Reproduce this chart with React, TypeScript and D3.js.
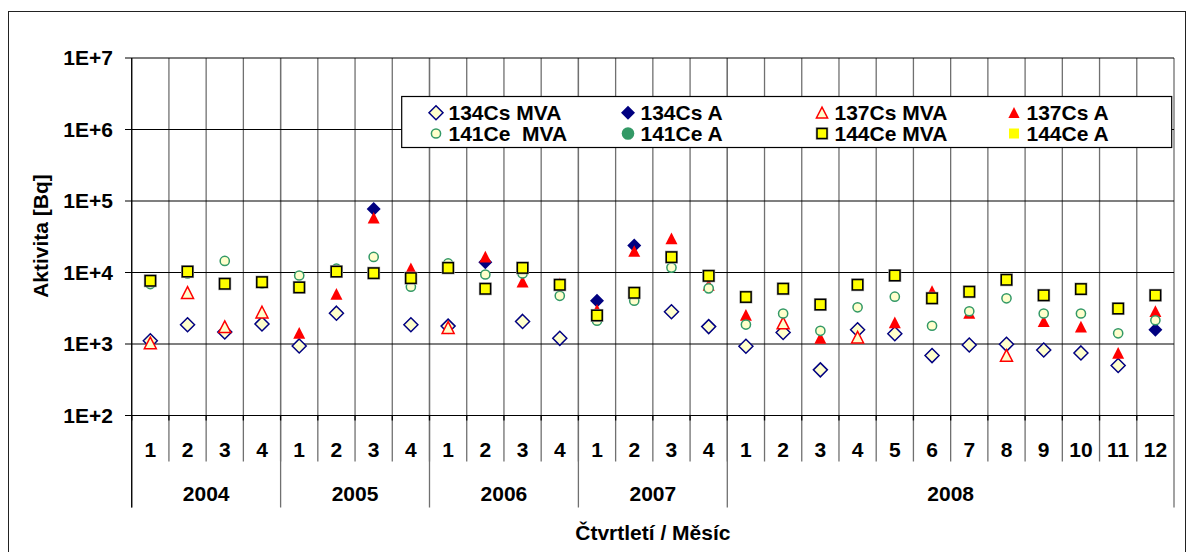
import React from "react";
import * as d3 from "d3";

const quarters = ["1", "2", "3", "4"];
const months = ["1", "2", "3", "4", "5", "6", "7", "8", "9", "10", "11", "12"];
const years = ["2004", "2005", "2006", "2007", "2008"];
const categories: { label: string; year: string }[] = [
  ...["2004", "2005", "2006", "2007"].flatMap((y) => quarters.map((q) => ({ label: q, year: y }))),
  ...months.map((m) => ({ label: m, year: "2008" })),
];
const yTicks = [1e2, 1e3, 1e4, 1e5, 1e6, 1e7];
const yTickLabels = ["1E+2", "1E+3", "1E+4", "1E+5", "1E+6", "1E+7"];

type V = number | null;
const cs134MVA: V[] = [1110, 1860, 1470, 1910, 940, 2700, null, 1860, 1780, null, 2070, 1200, null, null, 2820, 1750, 929, 1450, 435, 1580, 1390, 689, 968, 989, 826, 750, 500, null];
const cs134A: V[] = [null, null, null, null, null, null, 77400, null, null, 13900, null, null, 4030, 23800, null, null, null, null, null, null, null, null, null, null, null, null, null, 1580];
const cs137MVA: V[] = [1030, 5220, 1740, 2780, null, null, null, null, 1690, null, null, null, null, null, null, null, null, 1960, null, 1240, null, null, null, 689, null, null, null, null];
const cs137A: V[] = [null, null, null, null, 1420, 5000, 58000, 11400, null, 16600, 7410, 7020, 2980, 19900, 29800, 6660, 2550, null, 1210, null, 2000, 5450, 2700, null, 2070, 1740, 750, 2870];
const ce141MVA: V[] = [6890, 9700, 14500, 7000, 9080, 11300, 16500, 6320, 13400, 9380, 9680, 4720, 2120, 4030, 11700, 6000, 1870, 2670, 1530, 3260, 4590, 1800, 2870, 4360, 2670, 2670, 1410, 2150];
const ce141A: V[] = categories.map(() => null);
const ce144MVA: V[] = [7660, 10300, 6960, 7340, 6190, 10300, 9790, 8340, 11600, 5920, 11600, 6730, 2510, 5200, 16400, 8980, 4540, 5930, 3560, 6740, 9080, 4360, 5380, 7910, 4800, 5870, 3130, 4800];
const ce144A: V[] = categories.map(() => null);

type Shape = "diamond" | "triangle" | "circle" | "square";
interface Series { name: string; values: V[]; shape: Shape; fill: string; stroke: string | null; }
const series: Series[] = [
  { name: "134Cs MVA", values: cs134MVA, shape: "diamond", fill: "#FFFFCC", stroke: "#000080" },
  { name: "134Cs A", values: cs134A, shape: "diamond", fill: "#000080", stroke: null },
  { name: "137Cs MVA", values: cs137MVA, shape: "triangle", fill: "#FFFFCC", stroke: "#FF0000" },
  { name: "137Cs A", values: cs137A, shape: "triangle", fill: "#FF0000", stroke: null },
  { name: "141Ce  MVA", values: ce141MVA, shape: "circle", fill: "#FFFFCC", stroke: "#339966" },
  { name: "141Ce A", values: ce141A, shape: "circle", fill: "#339966", stroke: null },
  { name: "144Ce MVA", values: ce144MVA, shape: "square", fill: "#FFFF00", stroke: "#000000" },
  { name: "144Ce A", values: ce144A, shape: "square", fill: "#FFFF00", stroke: null },
];

const W = 1193, H = 552;
const L = 131.7, R = 1174, T = 58, B = 415.5;
const FONT = "'Liberation Sans', Arial, sans-serif";
const FS = 21;

function Marker({ s, x, y, legend = false }: { s: Series; x: number; y: number; legend?: boolean }) {
  const sw = s.stroke ? 1.5 : 0;
  const common = { fill: s.fill, stroke: s.stroke ?? "none", strokeWidth: sw };
  if (s.shape === "diamond") {
    const r = 7;
    return <path d={`M${x},${y - r}L${x + r},${y}L${x},${y + r}L${x - r},${y}Z`} {...common} />;
  }
  if (s.shape === "triangle") {
    const r = legend ? 5.6 : 6;
    return <path d={`M${x},${y - r}L${x + r},${y + r * 0.95}L${x - r},${y + r * 0.95}Z`} {...common} />;
  }
  if (s.shape === "circle") {
    const r = s.stroke ? 4.6 : legend ? 6.3 : 5.5;
    return <circle cx={x} cy={y} r={r} {...common} />;
  }
  const h = legend ? 5 : 5.2;
  return (
    <g>
      {s.stroke && <rect x={x - h - 0.8} y={y - h - 0.8} width={2 * h + 1.6} height={2 * h + 1.6} fill="none" stroke="#aaa" strokeWidth={1} />}
      <rect x={x - h} y={y - h} width={2 * h} height={2 * h} {...common} />
    </g>
  );
}

export default function App() {
  const x = d3.scaleBand<number>().domain(categories.map((_, i) => i)).range([L, R]).padding(0);
  const y = d3.scaleLog().domain([1e2, 1e7]).range([B, T]);
  const bw = x.bandwidth();

  const yearGroups = years.map((yr) => {
    const idx = categories.map((c, i) => (c.year === yr ? i : -1)).filter((i) => i >= 0);
    const x0 = x(idx[0])!;
    const x1 = x(idx[idx.length - 1])! + bw;
    return { yr, x0, x1 };
  });

  const legendCols = [436, 628, 822, 1014];
  const legendRows = [112.7, 133.5];

  return (
    <svg width={W} height={H} style={{ position: "absolute", left: 0, top: 0 }} fontFamily={FONT}>
      <rect x={0} y={0} width={W} height={H} fill="#fff" />
      <rect x={8.5} y={11.5} width={1177} height={560} fill="#fff" stroke="#222" strokeWidth={1} />

      {categories.map((_, i) => (
        i > 0 ? <line key={"v" + i} x1={x(i)!} x2={x(i)!} y1={T} y2={461.5} stroke="#707070" strokeWidth={1.3} /> : null
      ))}
      {[...yearGroups.map((g) => g.x0), R].map((xx, i) => (
        <line key={"yr" + i} x1={xx} x2={xx} y1={T} y2={507.5} stroke="#707070" strokeWidth={1.3} />
      ))}
      {yTicks.map((t, i) => (
        <line key={"h" + i} x1={125} x2={R} y1={y(t)} y2={y(t)} stroke="#000" strokeWidth={1.2} />
      ))}
      <line x1={L} x2={L} y1={T} y2={507.5} stroke="#000" strokeWidth={1.2} />
      {categories.map((_, i) => (
        <line key={"xt" + i} x1={x(i)!} x2={x(i)!} y1={B} y2={B + 5} stroke="#000" strokeWidth={1.3} />
      ))}

      {yTicks.map((t, i) => (
        <text key={"yl" + i} x={113} y={y(t)} dy="0.35em" textAnchor="end" fontSize={FS} fontWeight="bold">{yTickLabels[i]}</text>
      ))}
      {categories.map((c, i) => (
        <text key={"cl" + i} x={x(i)! + bw / 2} y={449.5} dy="0.35em" textAnchor="middle" fontSize={FS} fontWeight="bold">{c.label}</text>
      ))}
      {yearGroups.map((g) => (
        <text key={g.yr} x={(g.x0 + g.x1) / 2} y={493.5} dy="0.35em" textAnchor="middle" fontSize={FS} fontWeight="bold">{g.yr}</text>
      ))}
      <text x={(L + R) / 2} y={533} dy="0.35em" textAnchor="middle" fontSize={FS} fontWeight="bold">Čtvrtletí / Měsíc</text>
      <text transform={`translate(41,236) rotate(-90)`} dy="0.35em" textAnchor="middle" fontSize={FS} fontWeight="bold">Aktivita [Bq]</text>

      {series.map((s, si) => (
        <g key={"s" + si}>
          {s.values.map((v, i) => (v == null ? null : <Marker key={i} s={s} x={x(i)! + bw / 2} y={y(v)} />))}
        </g>
      ))}

      <rect x={401.7} y={96.5} width={770} height={51} fill="#fff" stroke="#000" strokeWidth={1.2} />
      {series.map((s, i) => {
        const row = i % 2;
        const col = Math.floor(i / 2);
        // legend layout: row1 = 134Cs MVA, 134Cs A, 137Cs MVA, 137Cs A ; row2 = 141Ce MVA, 141Ce A, 144Ce MVA, 144Ce A
        const r = i < 4 ? 0 : 1;
        const c = i % 4;
        void row; void col;
        const mx = legendCols[c];
        const my = legendRows[r];
        return (
          <g key={"lg" + i}>
            <Marker s={s} x={mx} y={my} legend />
            <text x={mx + 12.5} y={my} dy="0.35em" fontSize={FS} fontWeight="bold" style={{ whiteSpace: "pre" }}>{s.name}</text>
          </g>
        );
      })}
    </svg>
  );
}
